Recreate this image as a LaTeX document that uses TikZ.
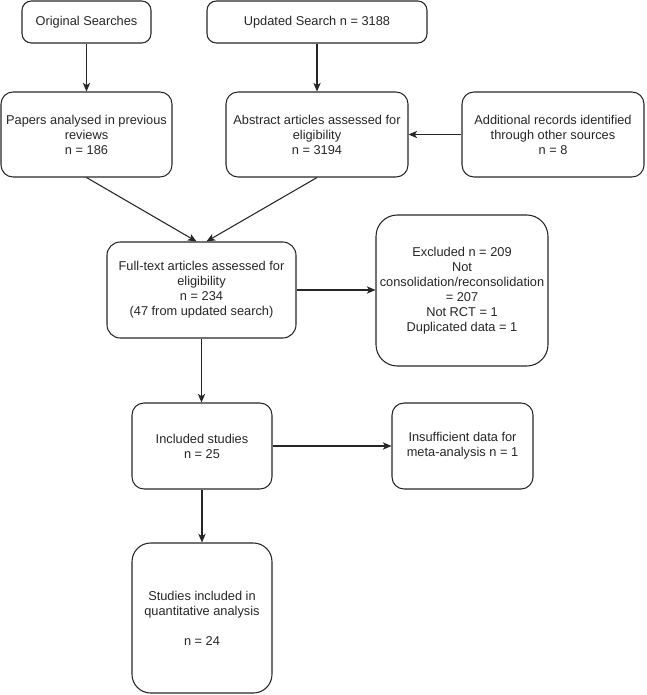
\documentclass[tikz,border=0pt]{standalone}
\usepackage{fontspec}
\setmainfont{Liberation Sans}
\usetikzlibrary{arrows.meta}
\begin{document}
\begin{tikzpicture}[x=0.75pt,y=-0.75pt,
  box/.style={draw=black!85, line width=0.8pt, align=center, inner sep=0pt, text=black!85,
    font=\fontsize{9.6}{11.25}\selectfont},
  arr/.style={draw=black!85, line width=0.8pt, -{Stealth[length=6.5pt,width=5.5pt,inset=1.8pt]}}]
\useasboundingbox (0,0) rectangle (646,695);
\node[box, rounded corners=7pt, minimum width=96.75pt, minimum height=31.5pt] (orig) at (86.5,22) {Original Searches};
\node[box, rounded corners=7pt, minimum width=165pt, minimum height=31.5pt] (upd) at (317,22) {Updated Search n = 3188};
\node[box, rounded corners=9pt, minimum width=128.25pt, minimum height=63.75pt] (pap) at (86.5,134.5) {Papers analysed in previous\\reviews\\n = 186};
\node[box, rounded corners=9pt, minimum width=136.5pt, minimum height=63.75pt] (abs) at (317,134.5) {Abstract articles assessed for\\eligibility\\n = 3194};
\node[box, rounded corners=9pt, minimum width=136.5pt, minimum height=63.75pt] (add) at (553,134.5) {Additional records identified\\through other sources\\n = 8};
\node[box, rounded corners=10pt, minimum width=141.75pt, minimum height=72pt] (full) at (201.5,290) {Full-text articles assessed for\\eligibility\\n = 234\\(47 from updated search)};
\node[box, rounded corners=16pt, minimum width=129pt, minimum height=113.25pt] (exc) at (462,290.5) {Excluded n = 209\\Not\\consolidation/reconsolidation\\= 207\\Not RCT = 1\\Duplicated data = 1};
\node[box, rounded corners=9pt, minimum width=105pt, minimum height=64.5pt] (inc) at (202,446) {Included studies\\n = 25};
\node[box, rounded corners=9pt, minimum width=105.75pt, minimum height=64.5pt] (ins) at (462.5,446) {Insufficient data for\\meta-analysis n = 1};
\node[box, rounded corners=14pt, minimum width=105pt, minimum height=112.5pt] (stu) at (202,618) {Studies included in\\quantitative analysis\\[11.25pt]n = 24};
\draw[arr] (orig) -- (pap);
\draw[arr] (upd) -- (abs);
\draw[arr] (add) -- (abs);
\draw[arr] (pap.south) -- ([xshift=-3.75pt]full.north);
\draw[arr] (abs.south) -- ([xshift=3.75pt]full.north);
\draw[arr] (full.east) -- (full.east -| exc.west);
\draw[arr] (full.south) -- (full.south |- inc.north);
\draw[arr] (inc.east) -- (inc.east -| ins.west);
\draw[arr] (inc.south) -- (inc.south |- stu.north);
\end{tikzpicture}
\end{document}
